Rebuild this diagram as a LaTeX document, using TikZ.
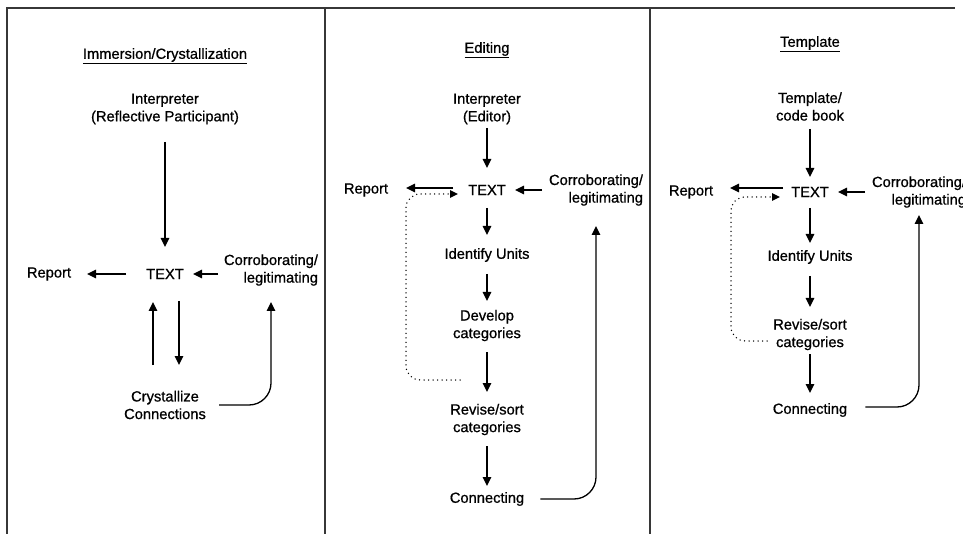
\documentclass[tikz,border=0pt]{standalone}
\usepackage{fontspec}
\setmainfont{Liberation Sans}[FakeBold=0.8]
\usepackage{tikz}
\usetikzlibrary{arrows.meta, positioning}
\definecolor{framegray}{RGB}{55, 55, 55}

\begin{document}
\begin{tikzpicture}[
    x=1pt, y=-1pt,
    node distance=60pt, on grid,
    txt/.style={inner sep=0pt, align=center,
                font=\fontsize{14.7}{17.6}\selectfont},
    arrow/.style={-{Triangle[length=9pt, width=8.5pt]}, line width=1.3pt},
    dotarrow/.style={-{Triangle[length=8pt, width=7.5pt]}, line width=1.5pt,
                     line cap=round, dash pattern=on 0pt off 4.5pt,
                     rounded corners=14pt},
    curvearrow/.style={arrow, rounded corners=22pt},
    panel/.style={draw=framegray, line width=1.5pt}
]

\useasboundingbox[fill=white] (0,0) rectangle (963,534);
\clip (0,0) rectangle (963,534);

% Panel frame
\draw[panel] (7,534) -- (7,8) -- (955,8);
\foreach \x in {325,650}
    \draw[panel] (\x,8) -- (\x,534);

% Immersion/Crystallization
\node[txt] (imtitle) at (165,56) {\underline{Immersion/Crystallization}};
\node[txt, below=53pt of imtitle] (iminterp) {Interpreter\\(Reflective Participant)};
\node[txt, below=165pt of iminterp] (imtext) {TEXT};
\node[txt, below=131pt of imtext] (imcryst) {Crystallize\\Connections};
\node[txt, left=116pt of imtext] (imreport) {Report};
\node[txt, align=right, right=106pt of imtext, yshift=4pt] (imcorr) {Corroborating/\\legitimating};

\draw[arrow, shorten <=33pt, shorten >=27pt] (iminterp.center) -- (imtext.center);
\draw[arrow, shorten <=39pt, shorten >=38pt] (imtext.center) -- (imreport.center);
\draw[arrow, shorten <=53pt, shorten >=28pt] (imcorr.center |- imtext.center) -- (imtext.center);
\draw[arrow, shorten <=40pt, shorten >=28pt] ([xshift=-12pt]imcryst.center) -- ([xshift=-12pt]imtext.center);
\draw[arrow, shorten <=27pt, shorten >=40pt] ([xshift=14pt]imtext.center) -- ([xshift=14pt]imcryst.center);
\draw[curvearrow] ([xshift=13pt]imcryst.east) -| ([yshift=-32pt]imcorr.center);

% Editing
\node[txt] (edtitle) at (487,50) {\underline{Editing}};
\node[txt, below=59pt of edtitle] (edinterp) {Interpreter\\(Editor)};
\node[txt, below=81pt of edinterp] (edtext) {TEXT};
\node[txt, below=65pt of edtext] (edunits) {Identify Units};
\node[txt, below=70.5pt of edunits] (eddevelop) {Develop\\categories};
\node[txt, below=94pt of eddevelop] (edrevise) {Revise/sort\\categories};
\node[txt, below=79.5pt of edrevise] (edconnect) {Connecting};
\node[txt, left=121pt of edtext] (edreport) {Report};
\node[txt, align=right, right=109pt of edtext] (edcorr) {Corroborating/\\legitimating};
\coordinate[below left=54.5pt and 27pt of eddevelop] (edloop);

\draw[arrow, shorten <=19pt, shorten >=22pt] (edinterp.center) -- (edtext.center);
\draw[arrow, shorten <=34pt, shorten >=40pt] ([yshift=2pt]edtext.center) -- ([yshift=2pt]edreport.center);
\draw[dotarrow] (edloop) -- ++(-54,0) |- ([xshift=-29pt, yshift=-4pt]edtext.center);
\draw[arrow, shorten <=54pt, shorten >=28pt] (edcorr.center |- edtext.center) -- (edtext.center);
\draw[arrow, shorten <=18pt, shorten >=20pt] (edtext.center) -- (edunits.center);
\draw[arrow, shorten <=19pt, shorten >=24.5pt] (edunits.center) -- (eddevelop.center);
\draw[arrow, shorten <=26.5pt, shorten >=27.5pt] (eddevelop.center) -- (edrevise.center);
\draw[arrow, shorten <=26.5pt, shorten >=13pt] (edrevise.center) -- (edconnect.center);
\draw[curvearrow] ([xshift=16pt]edconnect.east) -| ([yshift=-36pt]edcorr.center);

% Template
\node[txt] (tptitle) at (810,44) {\underline{Template}};
\node[txt, below=62.5pt of tptitle] (tpbook) {Template/\\code book};
\node[txt, below=85.5pt of tpbook] (tptext) {TEXT};
\node[txt, below=65pt of tptext] (tpunits) {Identify Units};
\node[txt, below=77.5pt of tpunits] (tprevise) {Revise/sort\\categories};
\node[txt, below=75.5pt of tprevise] (tpconnect) {Connecting};
\node[txt, left=119pt of tptext] (tpreport) {Report};
\node[txt, align=right, right=109pt of tptext] (tpcorr) {Corroborating/\\legitimating};
\coordinate[below left=6.5pt and 43pt of tprevise] (tploop);

\draw[arrow, shorten <=22.5pt, shorten >=15pt] (tpbook.center) -- (tptext.center);
\draw[arrow, shorten <=27pt, shorten >=39pt] ([yshift=4pt]tptext.center) -- ([yshift=4pt]tpreport.center);
\draw[dotarrow] (tploop) -- ++(-36,0) |- ([xshift=-30pt, yshift=-5pt]tptext.center);
\draw[arrow, shorten <=54pt, shorten >=28pt] (tpcorr.center |- tptext.center) -- (tptext.center);
\draw[arrow, shorten <=16pt, shorten >=14pt] (tptext.center) -- (tpunits.center);
\draw[arrow, shorten <=19pt, shorten >=27.5pt] (tpunits.center) -- (tprevise.center);
\draw[arrow, shorten <=19.5pt, shorten >=17pt] (tprevise.center) -- (tpconnect.center);
\draw[curvearrow] ([xshift=18pt, yshift=3pt]tpconnect.east) -| ([yshift=-23pt]tpcorr.center);

\end{tikzpicture}
\end{document}
